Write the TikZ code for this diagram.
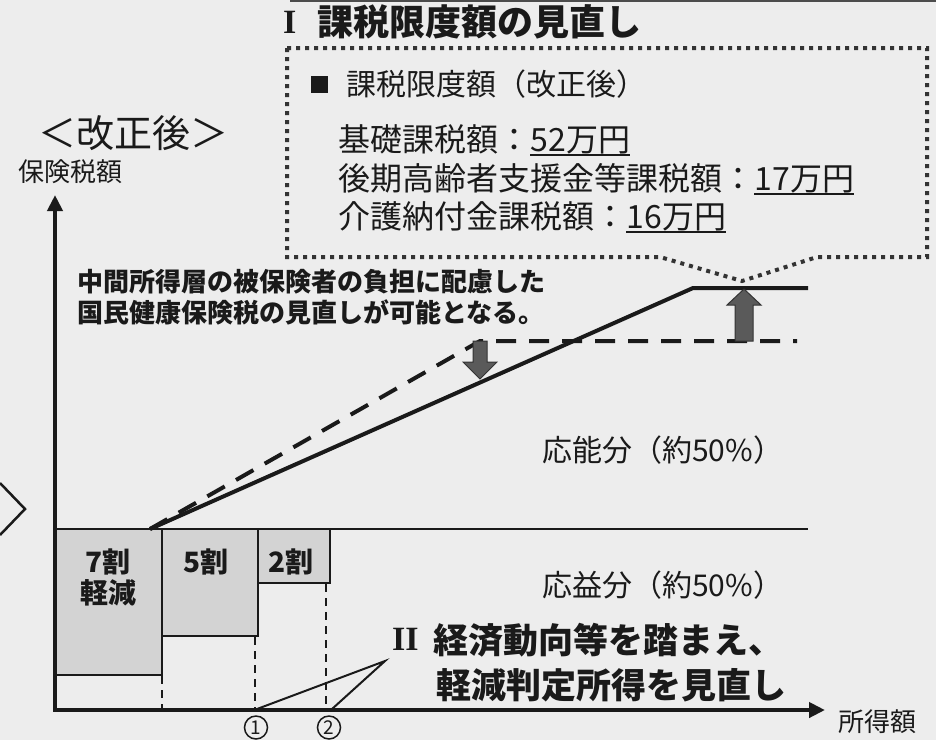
\documentclass[tikz,border=0pt]{standalone}
\usepackage{fontspec}
\newfontfamily\jp{Noto Sans CJK JP}
\newfontfamily\romfont{Liberation Serif}
\usetikzlibrary{arrows.meta}
\definecolor{bgc}{HTML}{EDEDED}
\definecolor{ink}{HTML}{1A1A1A}
\definecolor{boxfill}{HTML}{D3D3D3}
\definecolor{arrfill}{HTML}{5A5A5A}
\definecolor{dotc}{HTML}{333333}
\newcommand\fs[1]{\fontsize{#1pt}{#1pt}\selectfont}
\begin{document}
\begin{tikzpicture}[x=1pt,y=-1pt,
  txt/.style={inner sep=0pt, text=ink, font=\jp},
  lbox/.style={draw=ink, line width=2.5pt, fill=boxfill, inner sep=0pt},
  vdash/.style={draw=ink, line width=2pt, dash pattern=on 8pt off 6pt},
  thin/.style={draw=ink, line width=2pt},
  axis/.style={draw=ink, line width=4pt, -{Triangle[length=16pt,width=15pt]}},
  blockarr/.style={fill=arrfill, draw=dotc, line width=1pt},
  circnum/.style={circle, draw=ink, line width=1.5pt, minimum size=23pt, inner sep=0pt, text=ink, font=\jp\fs{19}},
  dotbox/.style={draw=dotc, line width=4pt, dash pattern=on 4pt off 5pt}]
\fill[bgc] (0,0) rectangle (936,740);
\useasboundingbox (0,0) rectangle (936,740);
\draw[gray!60!black, line width=1.5pt] (290,0.8) -- (936,0.8);
% left chevron
\draw[ink, line width=2.5pt] (0,483) -- (25,509) -- (0,535);

% title
\node[txt, anchor=west, font=\romfont\bfseries\fs{34}] (t1) at (283,22) {I};
\node[txt, anchor=west, font=\jp\bfseries\fs{36}] (t1b) at (317,22) {課税限度額の見直し};

% dotted callout box
\draw[dotbox] (287,48) -- (927,48) -- (927,257) -- (817,257) -- (742,281) -- (660,257) -- (287,257) -- cycle;
\node[fill=ink, minimum width=17pt, minimum height=17pt, inner sep=0pt] (sq) at (319,84) {};
\node[txt, anchor=west, font=\jp\fs{30}] (hd) at (346,84) {課税限度額（改正後）};
\node[txt, anchor=west, font=\jp\fs{32}] (l1) at (338,139) {基礎課税額：};
\node[txt, anchor=base west, font=\jp\fs{32}] (v1) at (l1.base east) {52万円};
\node[txt, anchor=west, font=\jp\fs{32}] (l2) at (338,178) {後期高齢者支援金等課税額：};
\node[txt, anchor=base west, font=\jp\fs{32}] (v2) at (l2.base east) {17万円};
\node[txt, anchor=west, font=\jp\fs{32}] (l3) at (338,216) {介護納付金課税額：};
\node[txt, anchor=base west, font=\jp\fs{32}] (v3) at (l3.base east) {16万円};
\foreach \v in {v1,v2,v3}
  \draw[ink, line width=2pt] ([yshift=-1pt]\v.south west) -- ([yshift=-1pt]\v.south east);

% left labels
\node[txt, anchor=west, font=\jp\fs{38}] (kai) at (38,133) {＜改正後＞};
\node[txt, anchor=west, font=\jp\fs{26}] (ylab) at (18,172) {保険税額};

% note
\node[txt, anchor=west, font=\jp\bfseries\fs{26}] (n1) at (77,282) {中間所得層の被保険者の負担に配慮した};
\node[txt, anchor=west, font=\jp\bfseries\fs{26}] (n2) at (77,312) {国民健康保険税の見直しが可能となる。};

% boxes
\node[lbox, minimum width=107pt, minimum height=146pt] (b7) at (108.5,602) {};
\node[lbox, minimum width=96pt, minimum height=107pt] (b5) at (210,582.5) {};
\node[lbox, minimum width=72pt, minimum height=54pt] (b2) at (294,556) {};
\node[txt, font=\jp\bfseries\fs{28}] (b7a) at (108,562) {7割};
\node[txt, font=\jp\bfseries\fs{28}] (b7b) at (108,593) {軽減};
\node[txt, font=\jp\bfseries\fs{28}] (b5a) at (206,562) {5割};
\node[txt, font=\jp\bfseries\fs{28}] (b2a) at (291,562) {2割};

% coordinates
\coordinate (O) at (55,710);
\coordinate (ytip) at (55,195);
\coordinate (xtip) at (825,710);
\coordinate (split) at (808,529);
\coordinate (st) at (150,529);
\coordinate (newk) at (693,288);
\coordinate (newe) at (808,288);
\coordinate (oldk) at (480,341);
\coordinate (olde) at (797,341);

% split line
\draw[ink, line width=2.5pt] (55,529) -- (split);

% dashed verticals
\draw[vdash] (162,676) -- (162,710);
\draw[vdash] (255,637) -- (255,710);
\draw[vdash] (326,584) -- (326,710);

% pointer lines
\coordinate (p1) at (257,709);
\coordinate (p2) at (332,709);
\coordinate (apex) at (385,661);
\draw[thin] (p1) -- (apex) -- (p2);

% old (dashed) and new (solid) lines
\draw[ink, line width=4pt, dash pattern=on 20pt off 13pt] (st) -- (oldk) -- (olde);
\draw[ink, line width=4pt, line join=miter] (st) -- (newk) -- (newe);

% block arrows
\filldraw[blockarr] (473,341) -- (487,341) -- (487,362) -- (497,362) -- (480,379) -- (463,362) -- (473,362) -- cycle;
\filldraw[blockarr] (735,341) -- (753,341) -- (753,305) -- (761,305) -- (744,289) -- (727,305) -- (735,305) -- cycle;

% axes
\draw[axis] (O) -- (ytip);
\draw[axis] ([xshift=-2pt]O) -- (xtip);
\node[txt, anchor=west, font=\jp\fs{26}] (xlab) at (838,722) {所得額};

% numbered markers
\node[circnum] (c1) at (256,727.5) {1};
\node[circnum] (c2) at (329,727.5) {2};

% region labels
\node[txt, anchor=west, font=\jp\fs{30}] (ono) at (542,450) {応能分（約50\%）};
\node[txt, anchor=west, font=\jp\fs{30}] (oeki) at (542,585) {応益分（約50\%）};

% II label
\node[txt, anchor=west, font=\romfont\bfseries\fs{34}] (t2) at (392,639) {II};
\node[txt, anchor=west, font=\jp\bfseries\fs{35}] (t2a) at (433,640) {経済動向等を踏まえ、};
\node[txt, anchor=west, font=\jp\bfseries\fs{35}] (t2b) at (436,685) {軽減判定所得を見直し};
\end{tikzpicture}
\end{document}
